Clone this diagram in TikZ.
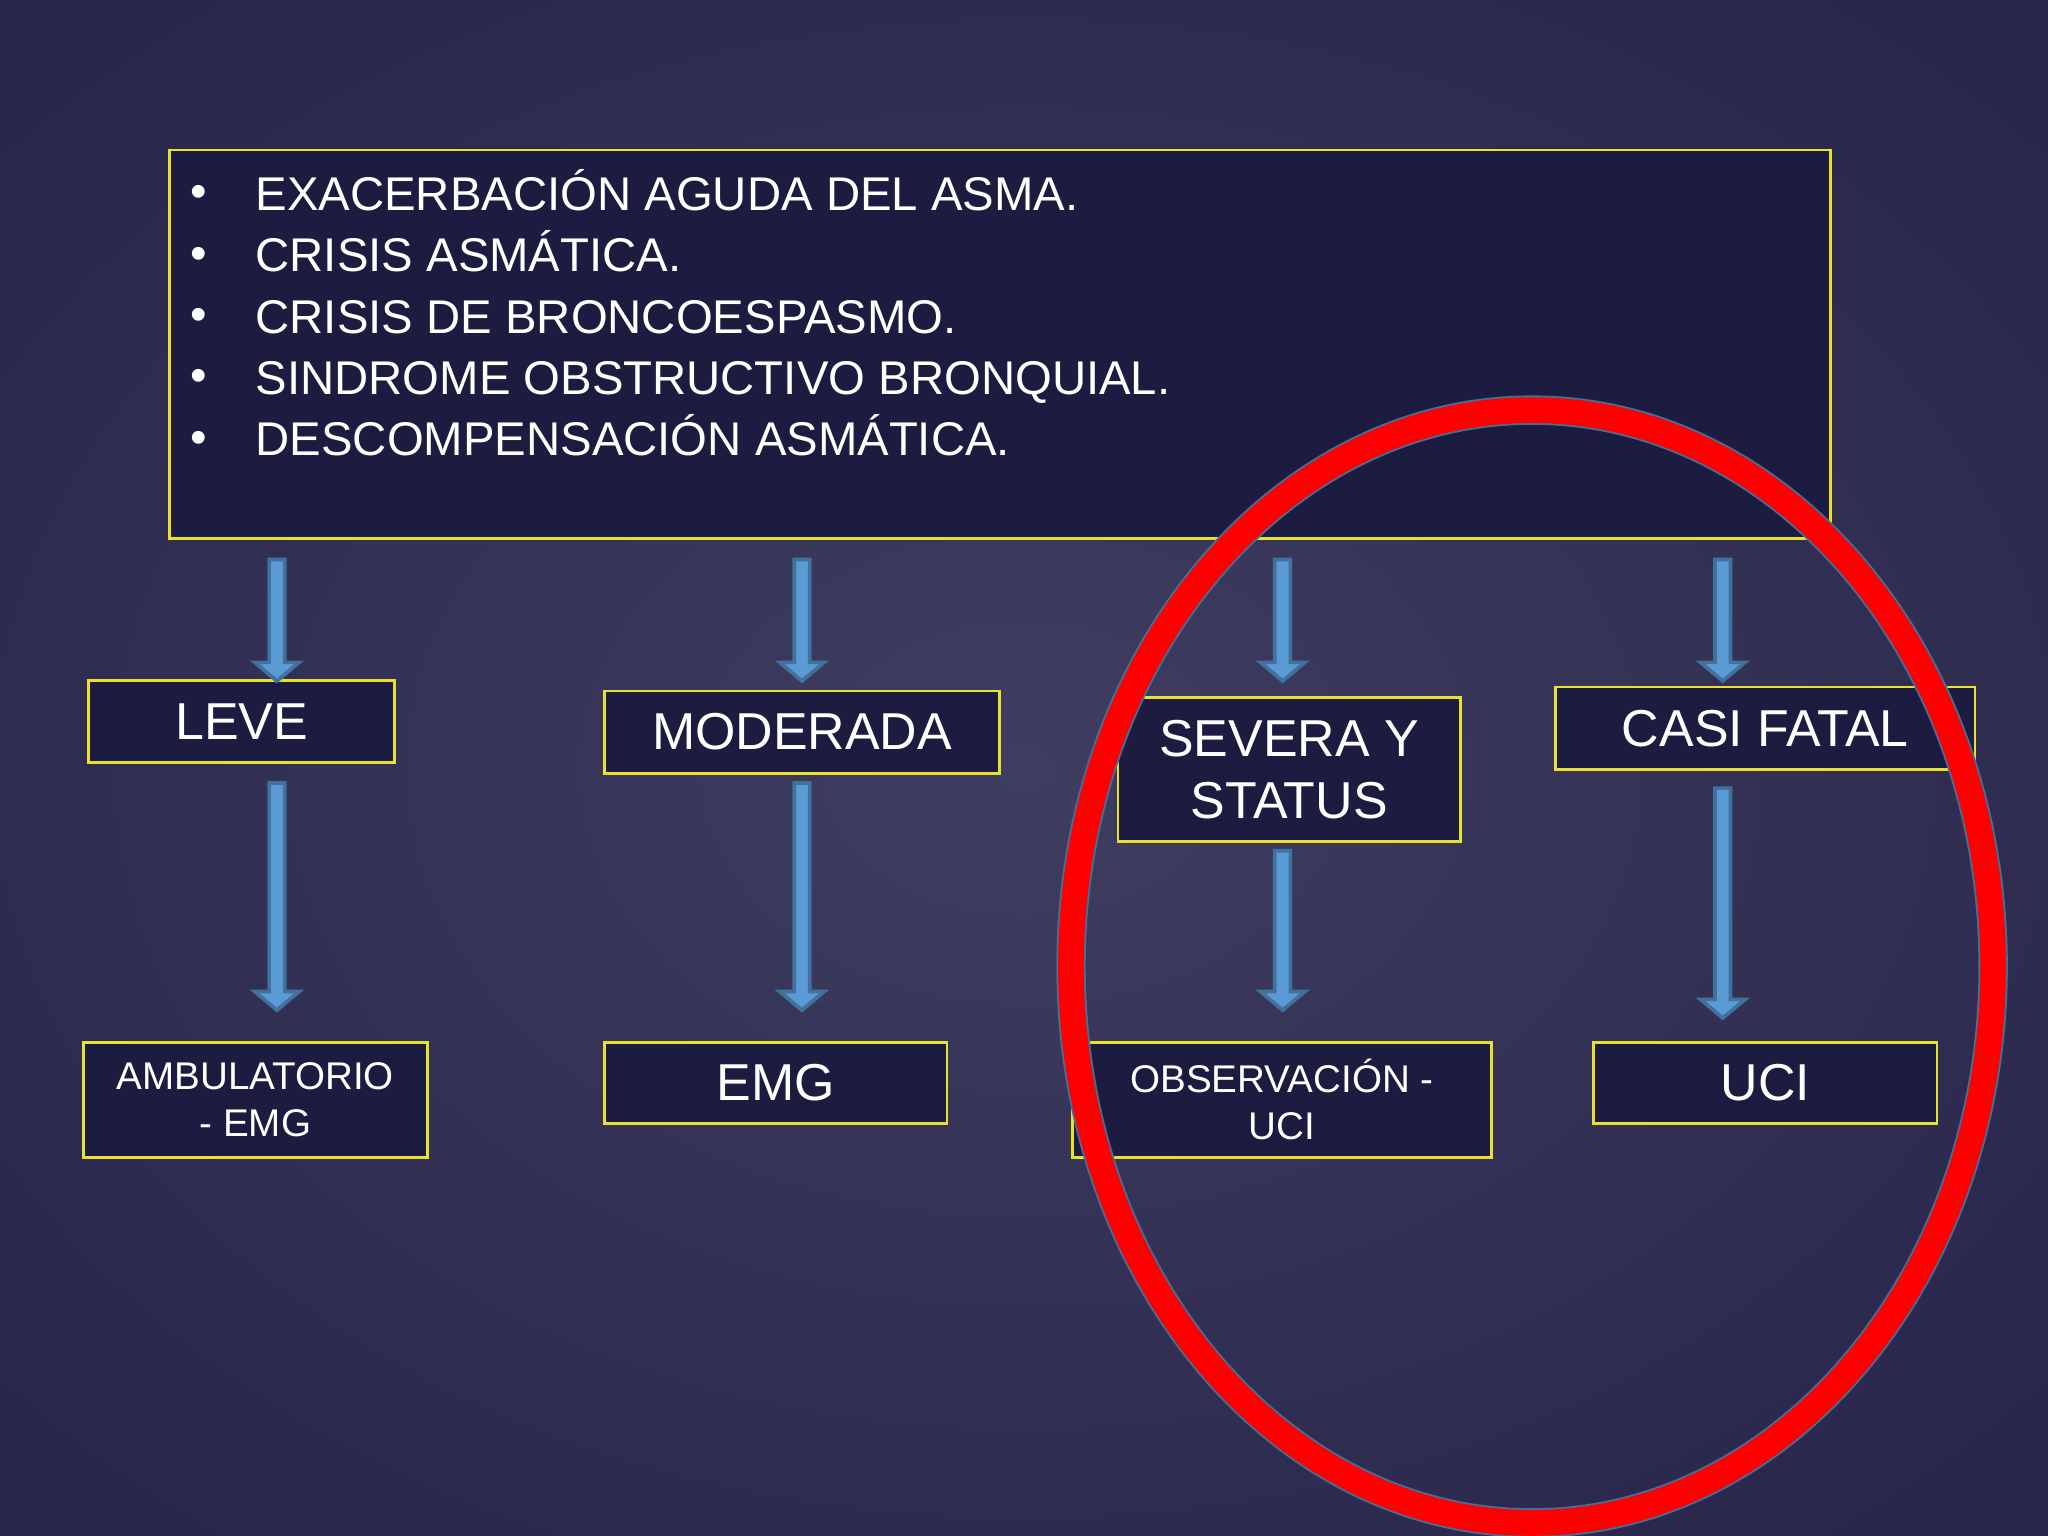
\documentclass[tikz,border=0pt]{standalone}
\usepackage{fontspec}
\setmainfont{Liberation Sans}
\usetikzlibrary{shapes.arrows}
\definecolor{boxfill}{HTML}{1C1C40}
\definecolor{boxline}{HTML}{E8E22A}
\definecolor{arrfill}{HTML}{5B9BD5}
\definecolor{arrline}{HTML}{41719C}
\definecolor{bgin}{HTML}{3F3D60}
\definecolor{bgout}{HTML}{27264A}
\tikzset{
  px/.style={x=0.01cm,y=-0.01cm},
  box/.style={draw=boxline,fill=boxfill,line width=0.6pt,text=white,align=center,inner sep=0pt},
  darr/.style={single arrow,draw=arrline,fill=arrfill,line width=0.8pt,shape border rotate=270,
    minimum width=0.34cm,single arrow head extend=0.1cm,single arrow tip angle=100,inner sep=0pt,
    text width=0.08cm,anchor=north},
  big/.style={font=\fontsize{11.3}{13.5}\selectfont},
  small/.style={font=\fontsize{8.4}{10.2}\selectfont},
}
\begin{document}
\begin{tikzpicture}[px]
\useasboundingbox (0,0) rectangle (1568,1176);
\shade[inner color=bgin,outer color=bgout] (-300,-200) rectangle (1868,1376);
% top box
\node[box,minimum width=12.71cm,minimum height=2.97cm] (top) at (765.5,263.5) {};
\foreach \t [count=\i] in {EXACERBACIÓN AGUDA DEL ASMA.,CRISIS ASMÁTICA.,CRISIS DE BRONCOESPASMO.,SINDROME OBSTRUCTIVO BRONQUIAL.,DESCOMPENSACIÓN ASMÁTICA.}{
  \node[text=white,anchor=base west,inner sep=0pt,font=\fontsize{10.3}{12}\selectfont] (b\i) at (195,{114+47*\i}) {\t};
  \node[text=white,anchor=base,inner sep=0pt,font=\fontsize{10.3}{12}\selectfont] (d\i) at (152,{112+47*\i}) {•};
}
% row 1 boxes
\node[box,minimum width=2.34cm,minimum height=0.63cm,big] (leve) at (185,552.5) {LEVE};
\node[box,minimum width=3.02cm,minimum height=0.63cm,big] (mod) at (614,560.5) {MODERADA};
\node[box,minimum width=2.62cm,minimum height=1.10cm,big] (sev) at (987,589) {SEVERA Y\\STATUS};
\node[box,minimum width=3.21cm,minimum height=0.63cm,big] (casi) at (1351.5,557.5) {CASI FATAL};
% row 2 boxes
\node[box,minimum width=2.63cm,minimum height=0.88cm,small] (amb) at (195.5,842) {AMBULATORIO\\- EMG};
\node[box,minimum width=2.62cm,minimum height=0.62cm,big] (emg) at (594,829) {EMG};
\node[box,minimum width=3.21cm,minimum height=0.88cm,small] (obs) at (981.5,842) {OBSERVACIÓN -\\UCI};
\node[box,minimum width=2.63cm,minimum height=0.62cm,big] (uci) at (1351.5,829) {UCI};
% arrows
\foreach \n/\x/\a/\b in {a1/212/427/520,a2/614/427/520,a3/982/427/520,a4/1319/427/520,
  c1/212/598/772,c2/614/598/772,c3/982/650/772,c4/1319/602/778}{
  \node[darr,minimum height={(\b-\a)*0.01cm}] (\n) at (\x,\a) {};
}
% red ellipse
\draw[draw=arrline,line width=6.4pt] (1173,740) ellipse [x radius=353,y radius=426];
\draw[draw=red,line width=5.6pt] (1173,740) ellipse [x radius=353,y radius=426];
\end{tikzpicture}
\end{document}
